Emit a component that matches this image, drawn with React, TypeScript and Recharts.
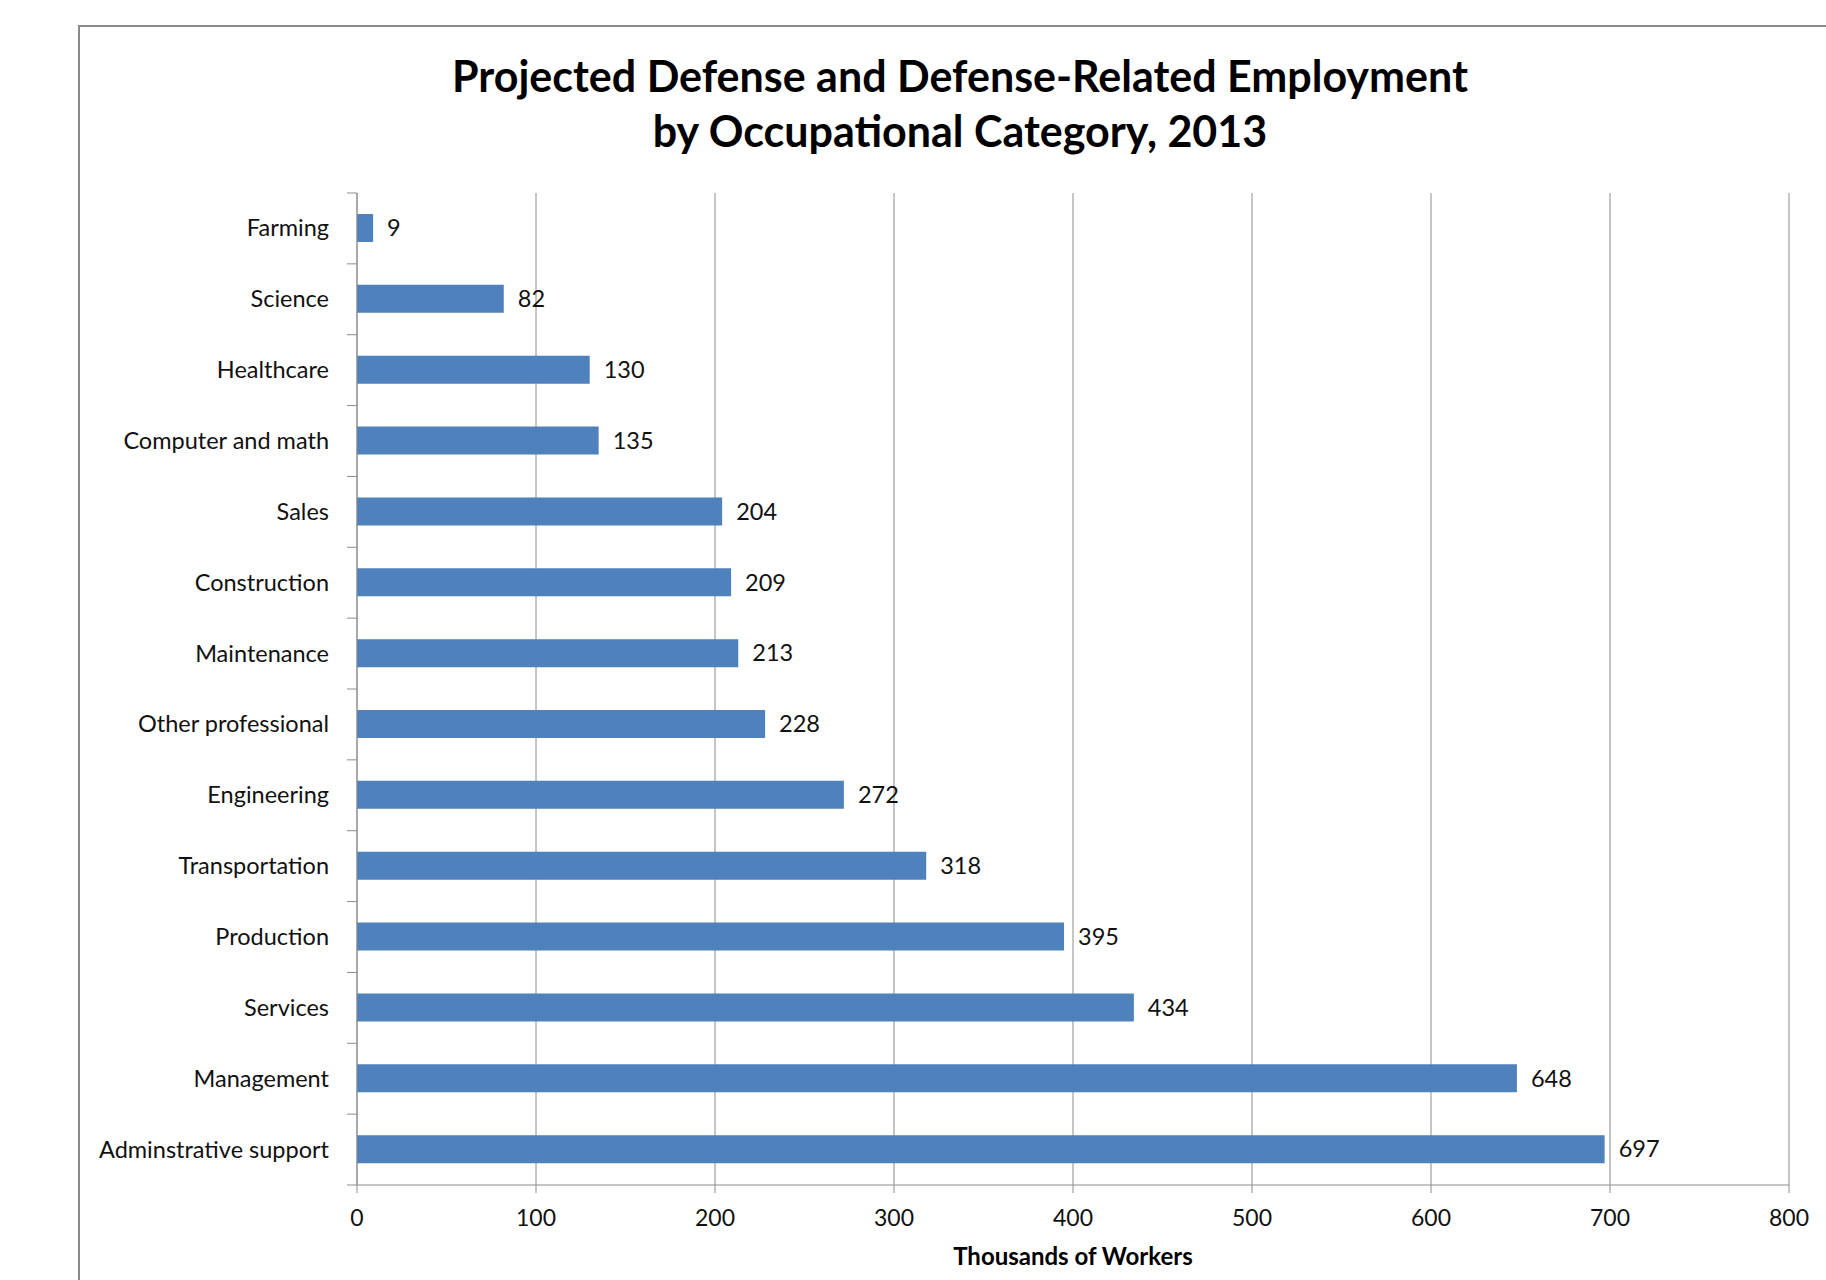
import React from 'react';
import { BarChart, Bar, XAxis, YAxis, CartesianGrid, LabelList } from 'recharts';

const categories = [
  'Farming',
  'Science',
  'Healthcare',
  'Computer and math',
  'Sales',
  'Construction',
  'Maintenance',
  'Other professional',
  'Engineering',
  'Transportation',
  'Production',
  'Services',
  'Management',
  'Adminstrative support',
];

const workers = [9, 82, 130, 135, 204, 209, 213, 228, 272, 318, 395, 434, 648, 697];

const xTicks = [0, 100, 200, 300, 400, 500, 600, 700, 800];

const titleLines = ['Projected Defense and Defense-Related Employment', 'by Occupational Category, 2013'];

const data = categories.map((name, i) => ({ name, value: workers[i] }));

const W = 1826;
const H = 1280;
const FONT = 'Lato, "Open Sans", sans-serif';
const GRID = '#8c8c8c';
const PLOT_TOP = 193;
const PLOT_BOTTOM = 1185;
const BAND = (PLOT_BOTTOM - PLOT_TOP) / categories.length;

function CategoryTick(props: any) {
  const { x, y, payload, index } = props;
  const half = payload?.offset ?? BAND / 2;
  const ax = x + 28;
  return (
    <g>
      {index === 0 && <line x1={ax - 10} x2={ax} y1={y - half} y2={y - half} stroke={GRID} />}
      <line x1={ax - 10} x2={ax} y1={y + half} y2={y + half} stroke={GRID} />
      <text x={x} y={y} dy={8} textAnchor="end" fontSize={23.5} fill="#111" fontFamily={FONT}>
        {payload.value}
      </text>
    </g>
  );
}

export default function App() {
  return (
    <div
      style={{
        position: 'absolute',
        left: 0,
        top: 0,
        width: W,
        height: H,
        overflow: 'hidden',
        background: '#fff',
        fontFamily: FONT,
      }}
    >
      <div
        style={{
          position: 'absolute',
          left: 78,
          top: 25,
          width: 2000,
          height: 2000,
          border: '2px solid #8a8a8a',
        }}
      />
      <div
        style={{
          position: 'absolute',
          left: 0,
          top: 48,
          width: 1920,
          textAlign: 'center',
          fontSize: 43,
          fontWeight: 700,
          lineHeight: '55px',
          color: '#000',
        }}
      >
        {titleLines.map((t) => (
          <div key={t}>{t}</div>
        ))}
      </div>
      <BarChart
        width={W}
        height={H}
        data={data}
        layout="vertical"
        margin={{ top: PLOT_TOP, right: 37, bottom: 0, left: 0 }}
        style={{ position: 'absolute', left: 0, top: 0 }}
      >
        <CartesianGrid horizontal={false} stroke={GRID} strokeWidth={1} />
        <XAxis
          type="number"
          domain={[0, 800]}
          ticks={xTicks}
          interval={0}
          height={95}
          stroke={GRID}
          tickSize={8}
          tickMargin={17}
          tick={{ fontSize: 23, fill: '#111', fontFamily: FONT }}
          label={{
            value: 'Thousands of Workers',
            position: 'insideBottom',
            offset: 15,
            style: { fontSize: 24, fontWeight: 700, fill: '#000', fontFamily: FONT },
          }}
        />
        <YAxis
          type="category"
          dataKey="name"
          width={357}
          stroke={GRID}
          tickLine={false}
          tickSize={10}
          tickMargin={18}
          interval={0}
          tick={<CategoryTick />}
        />
        <Bar dataKey="value" fill="#4f81bd" barSize={28} isAnimationActive={false}>
          <LabelList
            dataKey="value"
            position="right"
            offset={14}
            style={{ fontSize: 23.5, fill: '#111', fontFamily: FONT }}
          />
        </Bar>
      </BarChart>
    </div>
  );
}
